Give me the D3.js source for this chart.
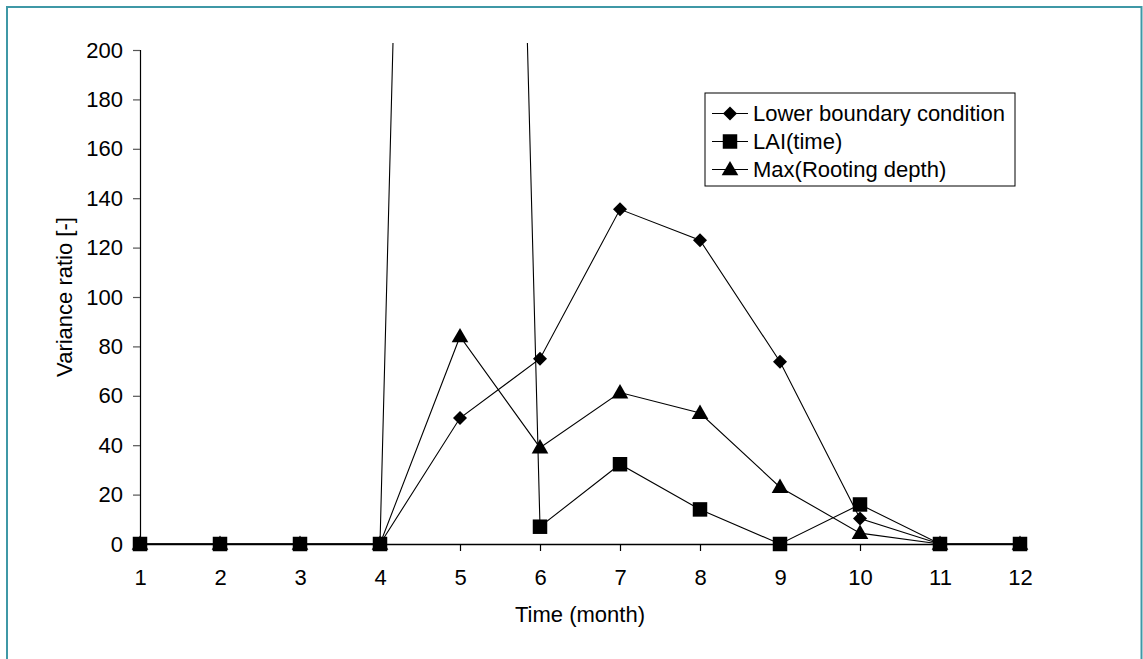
<!DOCTYPE html>
<html>
<head>
<meta charset="utf-8">
<script src="https://cdn.jsdelivr.net/npm/d3@7"></script>
<style>
  html, body { margin: 0; padding: 0; background: #fff; }
  svg { display: block; font-family: "Liberation Sans", Arial, sans-serif; }
</style>
</head>
<body>
<svg id="chart" width="1143" height="659"></svg>
<script>
// Months on the x axis
const months = [1, 2, 3, 4, 5, 6, 7, 8, 9, 10, 11, 12];

// Variance ratio per month for each factor
const lowerBoundary = [0, 0, 0, 0, 51, 75, 135.5, 123, 73.8, 10.3, 0, 0];
const laiTime       = [0, 0, 0, 0, 1250, 7, 32.3, 14, 0, 16, 0, 0];
const maxRooting    = [0, 0, 0, 0, 84, 39, 61.3, 53, 23, 4.4, 0, 0];

const seriesNames = ["Lower boundary condition", "LAI(time)", "Max(Rooting depth)"];
const seriesSymbols = ["diamond", "square", "triangle"];

const yTicks = [0, 20, 40, 60, 80, 100, 120, 140, 160, 180, 200];

const series = [
  { name: seriesNames[0], values: lowerBoundary, symbol: seriesSymbols[0] },
  { name: seriesNames[1], values: laiTime,       symbol: seriesSymbols[1] },
  { name: seriesNames[2], values: maxRooting,    symbol: seriesSymbols[2] }
];

const FONT = 22;
const svg = d3.select("#chart");

// Outer frame
svg.append("rect")
  .attr("x", 7).attr("y", 7)
  .attr("width", 1134.5).attr("height", 670)
  .attr("fill", "#fff")
  .attr("stroke", "#3f98a6")
  .attr("stroke-width", 2);

const x = d3.scaleLinear().domain([1, 12]).range([140, 1020]);
const y = d3.scaleLinear().domain([0, 200]).range([544, 50]);

// Clip region for the series lines (plot area)
svg.append("defs").append("clipPath").attr("id", "plotClip")
  .append("rect")
  .attr("x", 130).attr("y", 43)
  .attr("width", 900).attr("height", 520);

// Y axis
const yAxis = d3.axisLeft(y).tickValues(yTicks).tickSize(7).tickPadding(10).tickFormat(d3.format("d"));
const gy = svg.append("g").attr("transform", "translate(140,0)").call(yAxis);
gy.select(".domain").attr("stroke", "#000").attr("stroke-width", 1.2);
gy.selectAll(".tick line").attr("stroke", "#555").attr("stroke-width", 1.2);
gy.selectAll(".tick text").attr("font-size", FONT).attr("fill", "#000")
  .attr("font-family", "'Liberation Sans', Arial, sans-serif");

// X axis
const xAxis = d3.axisBottom(x).tickValues(months).tickSize(7).tickSizeOuter(0).tickPadding(18).tickFormat(d3.format("d"));
const gx = svg.append("g").attr("transform", "translate(0,544)").call(xAxis);
gx.select(".domain").attr("stroke", "#000").attr("stroke-width", 1.5);
gx.selectAll(".tick line").attr("stroke", "#000").attr("stroke-width", 1.2);
gx.selectAll(".tick text").attr("font-size", FONT).attr("fill", "#000")
  .attr("font-family", "'Liberation Sans', Arial, sans-serif");

// Axis titles
svg.append("text")
  .attr("x", 580).attr("y", 622)
  .attr("text-anchor", "middle")
  .attr("font-size", FONT)
  .text("Time (month)");

svg.append("text")
  .attr("transform", "translate(72,297) rotate(-90)")
  .attr("text-anchor", "middle")
  .attr("font-size", FONT)
  .text("Variance ratio [-]");

// Marker shapes
const symbolPath = {
  diamond: d3.symbol().type(d3.symbolSquare).size(98)(),
  square: d3.symbol().type(d3.symbolSquare).size(210)(),
  triangle: d3.symbol().type(d3.symbolTriangle).size(120)()
};
function markerTransform(sym, px, py) {
  if (sym === "diamond") return `translate(${px},${py}) rotate(45)`;
  if (sym === "triangle") return `translate(${px},${py + 1})`;
  return `translate(${px},${py})`;
}

const line = d3.line()
  .x((d, i) => x(months[i]))
  .y(d => y(d));

const plot = svg.append("g").attr("clip-path", "url(#plotClip)");

series.forEach(s => {
  plot.append("path")
    .datum(s.values)
    .attr("fill", "none")
    .attr("stroke", "#000")
    .attr("stroke-width", 1.1)
    .attr("d", line);
});

// Markers drawn in order so squares sit above the rest at shared zeros
[series[0], series[2], series[1]].forEach(s => {
  plot.selectAll(null)
    .data(s.values)
    .enter()
    .append("path")
    .attr("d", symbolPath[s.symbol])
    .attr("transform", (d, i) => markerTransform(s.symbol, x(months[i]), y(d)))
    .attr("fill", "#000");
});

// Legend
const legend = svg.append("g").attr("transform", "translate(705,93)");
legend.append("rect")
  .attr("x", 0).attr("y", 0)
  .attr("width", 310).attr("height", 93)
  .attr("fill", "#fff")
  .attr("stroke", "#000")
  .attr("stroke-width", 1);

const legendRows = [20.5, 48.5, 76.5];
series.forEach((s, i) => {
  const row = legend.append("g").attr("transform", `translate(0,${legendRows[i]})`);
  row.append("line")
    .attr("x1", 7).attr("x2", 43)
    .attr("y1", 0).attr("y2", 0)
    .attr("stroke", "#000").attr("stroke-width", 1.1);
  row.append("path")
    .attr("d", symbolPath[s.symbol])
    .attr("transform", markerTransform(s.symbol, 25, 0))
    .attr("fill", "#000");
  row.append("text")
    .attr("x", 48).attr("y", 0)
    .attr("dy", "0.35em")
    .attr("font-size", FONT)
    .text(s.name);
});
</script>
</body>
</html>
